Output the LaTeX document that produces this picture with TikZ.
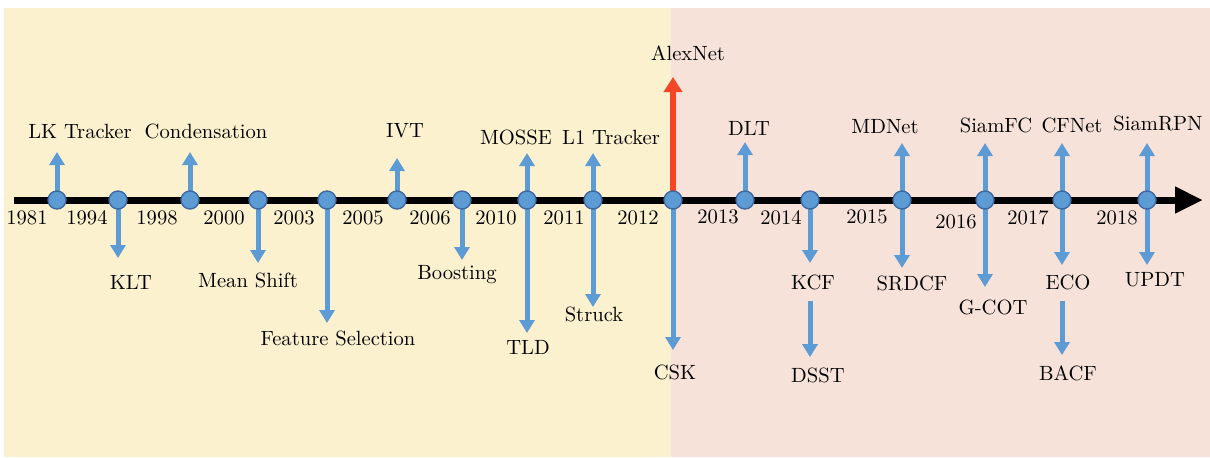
\documentclass[tikz,border=0pt]{standalone}
\usepackage{xcolor}
\usepackage{tikz}
\usetikzlibrary{arrows.meta}
\definecolor{bgyellow}{RGB}{252,241,207}
\definecolor{bgpink}{RGB}{246,226,217}
\definecolor{evblue}{RGB}{93,155,213}
\definecolor{evedge}{RGB}{62,104,160}
\definecolor{alexred}{RGB}{242,70,36}

\begin{document}
\begin{tikzpicture}[x=0.5pt,y=-0.5pt,
  dot/.style={circle,draw=evedge,fill=evblue,line width=0.7pt,minimum size=9pt,inner sep=0pt},
  arr/.style={evblue,line width=2.5pt,-{Triangle[width=7.5pt,length=6.5pt]}},
  redarr/.style={alexred,line width=3pt,-{Triangle[width=9pt,length=7.5pt]}},
  axis/.style={black,line width=3.5pt,-{Triangle[width=12.5pt,length=14pt]}},
  lbl/.style={font=\fontsize{10.3}{12}\selectfont,inner sep=0pt},
  yr/.style={lbl}]
\useasboundingbox (0,0) rectangle (1210,457);
% two eras
\fill[bgyellow] (4,8) rectangle (671,457);
\fill[bgpink] (671,8) rectangle (1210,457);
% time axis
\coordinate (start) at (14,200);
\coordinate (end) at (1203,200);
\draw[axis] (start) -- (end);
% event points on the axis
\foreach \n/\x in {lk/57,klt/118,cond/190,ms/258,fs/327,ivt/397,boost/462,mosse/527,
  l1/593,alex/673,dlt/745,kcf/810,mdnet/902,siamfc/985,cfnet/1062,siamrpn/1147}{
  \coordinate (t-\n) at (\x,200);
}
% upward events
\foreach \n/\tip/\lx/\ly/\txt in {lk/152/80/131/LK Tracker,cond/152/206/131/Condensation,
  ivt/158/405/131/IVT,mosse/153/516/137/MOSSE,l1/153/611/137/L1 Tracker,dlt/142/749/128/DLT,
  mdnet/143/885/127/MDNet,siamfc/143/996/125/SiamFC,cfnet/143/1072/125/CFNet,
  siamrpn/143/1158/123/SiamRPN}{
  \coordinate (h-\n) at (t-\n |- 0,\tip);
  \draw[arr] (t-\n) -- (h-\n);
  \node[lbl] (u-\n) at (\lx,\ly) {\txt};
}
% downward events
\foreach \n/\tip/\lx/\ly/\txt in {klt/258/131/282/KLT,ms/263/248/280/Mean Shift,
  fs/323/338/338/Feature Selection,boost/260/457/275/Boosting,mosse/333/528/347/TLD,
  l1/307/594/314/Struck,alex/350/675/372/CSK,kcf/263/813/282/KCF,mdnet/268/912/283/SRDCF,
  siamfc/287/993/307/G-COT,cfnet/265/1068/282/ECO,siamrpn/265/1155/280/UPDT}{
  \coordinate (g-\n) at (t-\n |- 0,\tip);
  \draw[arr] (t-\n) -- (g-\n);
  \node[lbl] (d-\n) at (\lx,\ly) {\txt};
}
% AlexNet
\coordinate (h-alex) at (673,77);
\draw[redarr] (t-alex) -- (h-alex);
\node[lbl] (u-alex) at (688,53) {AlexNet};
% second row below KCF and ECO
\node[lbl] (dsst) at (818,375) {DSST};
\node[lbl] (bacf) at (1068,373) {BACF};
\draw[arr,shorten <=5.5pt,shorten >=5pt] (t-kcf |- d-kcf.south) -- (t-kcf |- dsst.north);
\draw[arr,shorten <=5.5pt,shorten >=5pt] (t-cfnet |- d-cfnet.south) -- (t-cfnet |- bacf.north);
% dots on top
\foreach \n in {lk,klt,cond,ms,fs,ivt,boost,mosse,l1,alex,dlt,kcf,mdnet,siamfc,cfnet,siamrpn}{
  \node[dot] (p-\n) at (t-\n) {};
}
% years
\foreach \y/\x/\yy in {1981/27/218,1994/87/218,1998/157/218,2000/224/218,2003/294/218,
  2005/363/218,2006/430/218,2010/496/218,2011/564/218,2012/638/218,2013/718/217,
  2014/781/218,2015/867/217,2016/956/222,2017/1028/218,2018/1117/218}{
  \node[yr] (y\y) at (\x,\yy) {\y};
}
\end{tikzpicture}
\end{document}
